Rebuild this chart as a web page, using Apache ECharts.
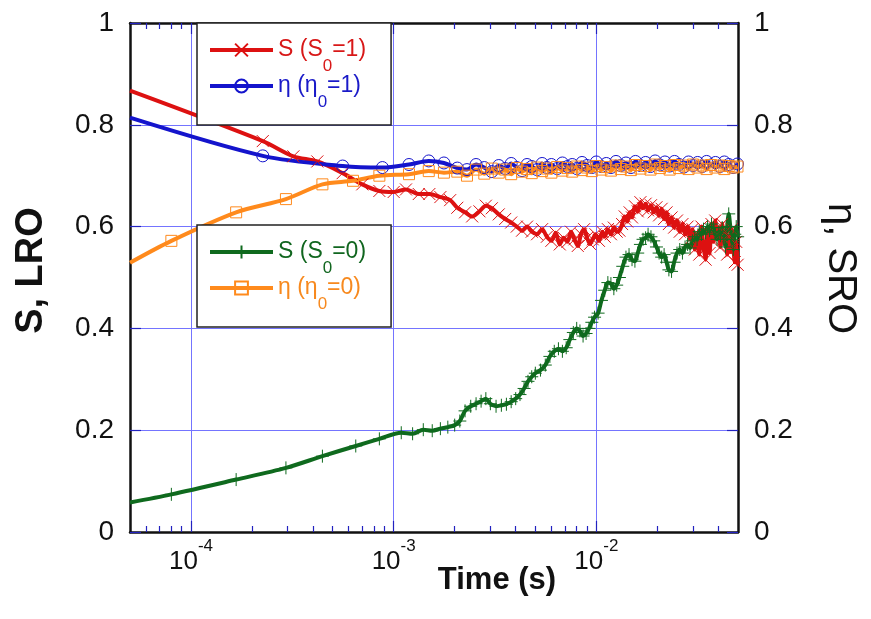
<!DOCTYPE html>
<html>
<head>
<meta charset="utf-8">
<script src="https://cdn.jsdelivr.net/npm/echarts@6/dist/echarts.min.js"></script>
<style>
  html, body { margin: 0; padding: 0; background: #fff; }
  #chart { width: 871px; height: 619px; }
</style>
</head>
<body>
<div id="chart"></div>
<script>
// time axis ticks (s)
const majorTicks = [1e-4, 1e-3, 1e-2];
const minorTicks = [6e-5, 7e-5, 8e-5, 9e-5,
  2e-4, 3e-4, 4e-4, 5e-4, 6e-4, 7e-4, 8e-4, 9e-4,
  2e-3, 3e-3, 4e-3, 5e-3, 6e-3, 7e-3, 8e-3, 9e-3,
  2e-2, 3e-2, 4e-2];

// S (S0=1)
const timeS1 = [5e-5, 2.26e-4, 3.2e-4, 4.2e-4, 5.6e-4, 7.0e-4, 8.5e-4, 1.0e-3, 1.15e-3, 1.33e-3, 1.5e-3, 1.7e-3, 1.9e-3,
  2.06e-3, 2.25e-3, 2.44e-3, 2.65e-3, 2.85e-3, 3.05e-3, 3.3e-3, 3.55e-3, 3.8e-3, 4.05e-3, 4.3e-3, 4.55e-3, 4.8e-3,
  5.1e-3, 5.4e-3, 5.7e-3, 6.0e-3, 6.3e-3, 6.6e-3, 6.9e-3, 7.2e-3, 7.5e-3, 7.8e-3, 8.1e-3, 8.4e-3, 8.7e-3, 9.0e-3,
  9.3e-3, 9.6e-3, 9.9e-3, 1.03e-2, 1.07e-2, 1.1e-2, 1.14e-2, 1.18e-2, 1.22e-2, 1.26e-2, 1.3e-2, 1.34e-2, 1.38e-2,
  1.42e-2, 1.46e-2, 1.5e-2, 1.55e-2, 1.6e-2, 1.65e-2, 1.7e-2, 1.75e-2, 1.8e-2, 1.86e-2, 1.92e-2, 1.98e-2, 2.04e-2,
  2.1e-2, 2.16e-2, 2.22e-2, 2.28e-2, 2.35e-2, 2.42e-2, 2.5e-2, 2.58e-2, 2.66e-2, 2.74e-2, 2.82e-2, 2.9e-2, 2.98e-2,
  3.06e-2, 3.14e-2, 3.22e-2, 3.3e-2, 3.38e-2, 3.46e-2, 3.54e-2, 3.62e-2, 3.7e-2, 3.78e-2, 3.86e-2, 3.94e-2, 4.02e-2,
  4.1e-2, 4.18e-2, 4.26e-2, 4.34e-2, 4.42e-2, 4.5e-2, 4.58e-2, 4.66e-2, 4.74e-2, 4.82e-2, 4.9e-2, 4.98e-2];
const valS1 = [0.867, 0.768, 0.738, 0.728, 0.705, 0.683, 0.670, 0.668, 0.673, 0.664, 0.664, 0.658, 0.652,
  0.637, 0.628, 0.620, 0.630, 0.641, 0.636, 0.624, 0.615, 0.608, 0.600, 0.592, 0.600, 0.590,
  0.585, 0.595, 0.580, 0.572, 0.588, 0.565, 0.578, 0.570, 0.590, 0.575, 0.562, 0.585, 0.595, 0.578,
  0.566, 0.575, 0.585, 0.572, 0.590, 0.580, 0.595, 0.585, 0.598, 0.590, 0.592, 0.605, 0.620,
  0.610, 0.628, 0.618, 0.640, 0.630, 0.648, 0.636, 0.645, 0.632, 0.642, 0.628, 0.638, 0.622,
  0.635, 0.615, 0.628, 0.605, 0.618, 0.598, 0.612, 0.590, 0.605, 0.585, 0.600, 0.575, 0.595,
  0.555, 0.585, 0.545, 0.600, 0.560, 0.535, 0.590, 0.548, 0.605, 0.570, 0.612, 0.585, 0.598,
  0.560, 0.605, 0.575, 0.590, 0.545, 0.580, 0.550, 0.595, 0.560, 0.530, 0.570, 0.525];

// eta (eta0=1)
const timeE1 = [5e-5, 2.26e-4, 5.6e-4, 8.8e-4, 1.19e-3, 1.49e-3, 1.77e-3, 2.06e-3,
  2.3e-3, 2.55e-3, 2.8e-3, 3.05e-3, 3.3e-3, 3.55e-3, 3.8e-3, 4.05e-3, 4.3e-3, 4.55e-3, 4.8e-3, 5.1e-3, 5.4e-3,
  5.7e-3, 6.0e-3, 6.4e-3, 6.8e-3, 7.2e-3, 7.6e-3, 8.0e-3, 8.5e-3, 9.0e-3, 9.5e-3, 1.0e-2, 1.06e-2, 1.12e-2,
  1.18e-2, 1.25e-2, 1.32e-2, 1.4e-2, 1.48e-2, 1.56e-2, 1.65e-2, 1.75e-2, 1.85e-2, 1.95e-2, 2.06e-2, 2.18e-2,
  2.3e-2, 2.43e-2, 2.56e-2, 2.7e-2, 2.85e-2, 3.0e-2, 3.16e-2, 3.33e-2, 3.5e-2, 3.68e-2, 3.87e-2, 4.07e-2,
  4.28e-2, 4.5e-2, 4.73e-2, 4.97e-2];
const valE1 = [0.814, 0.739, 0.719, 0.716, 0.722, 0.729, 0.725, 0.715,
  0.712, 0.722, 0.716, 0.708, 0.720, 0.714, 0.724, 0.716, 0.710, 0.722, 0.718, 0.712, 0.724,
  0.716, 0.722, 0.714, 0.725, 0.718, 0.722, 0.714, 0.726, 0.720, 0.716, 0.727, 0.718, 0.724,
  0.716, 0.728, 0.720, 0.725, 0.716, 0.728, 0.720, 0.726, 0.718, 0.729, 0.721, 0.727,
  0.719, 0.728, 0.722, 0.717, 0.727, 0.720, 0.726, 0.718, 0.728, 0.721, 0.726, 0.718,
  0.727, 0.722, 0.716, 0.723];

// S (S0=0)
const timeS0 = [5e-5, 8e-5, 1.67e-4, 2.94e-4, 4.45e-4, 6.5e-4, 8.5e-4, 1.09e-3, 1.24e-3, 1.4e-3, 1.55e-3, 1.7e-3,
  1.85e-3, 2.0e-3, 2.12e-3, 2.25e-3, 2.4e-3, 2.55e-3, 2.7e-3, 2.85e-3, 3.0e-3, 3.2e-3, 3.4e-3, 3.6e-3, 3.8e-3,
  4.0e-3, 4.2e-3, 4.4e-3, 4.6e-3, 4.8e-3, 5.0e-3, 5.3e-3, 5.6e-3, 5.9e-3, 6.2e-3, 6.5e-3, 6.8e-3, 7.1e-3, 7.4e-3,
  7.7e-3, 8.0e-3, 8.3e-3, 8.6e-3, 8.9e-3, 9.2e-3, 9.5e-3, 9.8e-3, 1.02e-2, 1.06e-2, 1.1e-2, 1.14e-2, 1.18e-2,
  1.22e-2, 1.26e-2, 1.3e-2, 1.35e-2, 1.4e-2, 1.45e-2, 1.5e-2, 1.55e-2, 1.6e-2, 1.65e-2, 1.7e-2, 1.75e-2, 1.8e-2,
  1.86e-2, 1.92e-2, 1.98e-2, 2.04e-2, 2.1e-2, 2.16e-2, 2.22e-2, 2.28e-2, 2.35e-2, 2.42e-2, 2.5e-2, 2.58e-2,
  2.66e-2, 2.74e-2, 2.82e-2, 2.9e-2, 2.98e-2, 3.06e-2, 3.14e-2, 3.22e-2, 3.3e-2, 3.38e-2, 3.46e-2, 3.54e-2,
  3.62e-2, 3.7e-2, 3.78e-2, 3.86e-2, 3.94e-2, 4.02e-2, 4.1e-2, 4.18e-2, 4.26e-2, 4.34e-2, 4.42e-2, 4.5e-2,
  4.58e-2, 4.66e-2, 4.74e-2, 4.82e-2, 4.9e-2, 4.98e-2];
const valS0 = [0.058, 0.074, 0.103, 0.126, 0.149, 0.169, 0.183, 0.195, 0.193, 0.201, 0.199, 0.203,
  0.206, 0.210, 0.218, 0.238, 0.247, 0.252, 0.257, 0.262, 0.252, 0.247, 0.249, 0.251, 0.256,
  0.262, 0.270, 0.282, 0.296, 0.305, 0.312, 0.318, 0.328, 0.345, 0.355, 0.360, 0.355, 0.362, 0.378,
  0.392, 0.400, 0.395, 0.385, 0.390, 0.400, 0.412, 0.422, 0.430, 0.455, 0.475, 0.490, 0.488,
  0.478, 0.485, 0.500, 0.522, 0.540, 0.545, 0.535, 0.532, 0.548, 0.565, 0.575, 0.578, 0.585,
  0.580, 0.572, 0.560, 0.548, 0.540, 0.545, 0.530, 0.515, 0.512, 0.530, 0.548, 0.555,
  0.548, 0.560, 0.565, 0.558, 0.572, 0.580, 0.575, 0.590, 0.585, 0.595, 0.588, 0.600,
  0.592, 0.605, 0.598, 0.585, 0.575, 0.590, 0.582, 0.598, 0.575, 0.560, 0.600, 0.625,
  0.600, 0.575, 0.555, 0.585, 0.600, 0.580];

// eta (eta0=0)
const timeE0 = [5e-5, 8e-5, 1.67e-4, 2.94e-4, 4.45e-4, 6.3e-4, 8.5e-4, 1.19e-3, 1.49e-3, 1.77e-3, 2.06e-3,
  2.3e-3, 2.55e-3, 2.8e-3, 3.05e-3, 3.3e-3, 3.55e-3, 3.8e-3, 4.05e-3, 4.3e-3, 4.55e-3, 4.8e-3, 5.1e-3, 5.4e-3,
  5.7e-3, 6.0e-3, 6.4e-3, 6.8e-3, 7.2e-3, 7.6e-3, 8.0e-3, 8.5e-3, 9.0e-3, 9.5e-3, 1.0e-2, 1.06e-2, 1.12e-2,
  1.18e-2, 1.25e-2, 1.32e-2, 1.4e-2, 1.48e-2, 1.56e-2, 1.65e-2, 1.75e-2, 1.85e-2, 1.95e-2, 2.06e-2, 2.18e-2,
  2.3e-2, 2.43e-2, 2.56e-2, 2.7e-2, 2.85e-2, 3.0e-2, 3.16e-2, 3.33e-2, 3.5e-2, 3.68e-2, 3.87e-2, 4.07e-2,
  4.28e-2, 4.5e-2, 4.73e-2, 4.97e-2];
const valE0 = [0.529, 0.572, 0.628, 0.654, 0.683, 0.690, 0.700, 0.703, 0.709, 0.706, 0.708,
  0.700, 0.712, 0.704, 0.714, 0.706, 0.712, 0.703, 0.715, 0.708, 0.713, 0.705, 0.716, 0.709,
  0.714, 0.706, 0.717, 0.710, 0.715, 0.708, 0.718, 0.711, 0.716, 0.709, 0.719, 0.712, 0.717,
  0.710, 0.720, 0.713, 0.718, 0.711, 0.721, 0.714, 0.719, 0.712, 0.722, 0.715, 0.719,
  0.712, 0.721, 0.715, 0.720, 0.713, 0.722, 0.716, 0.720, 0.713, 0.721, 0.716, 0.720,
  0.713, 0.719, 0.716, 0.718];

const FONT = "'Liberation Sans', Arial, sans-serif";
const BLUE_GRID = '#7474ff';
const BLUE_TICK = '#2222c0';

// first sample sits on the left frame, no marker there
function pairs(ts, vs) {
  return ts.map((t, i) => i === 0 ? { value: [t, vs[i]], symbol: 'none' } : [t, vs[i]]);
}

function lineSeries(name, ts, vs, color, symbol, size, yIndex) {
  return {
    name: name,
    type: 'line',
    yAxisIndex: yIndex,
    data: pairs(ts, vs),
    smooth: 0.3,
    symbol: symbol,
    symbolSize: size,
    lineStyle: { color: color, width: 4 },
    itemStyle: { color: 'rgba(0,0,0,0)', borderColor: color, borderWidth: 1 },
    emphasis: { disabled: true },
    animation: false
  };
}

function legendBox(names, colors, left, top) {
  return {
    data: names.map((n, i) => ({ name: n, textStyle: { color: colors[i] } })),
    orient: 'vertical',
    left: left,
    top: top,
    itemWidth: 63,
    itemHeight: 16,
    itemGap: -14,
    padding: [2, 25, 14, 11],
    backgroundColor: '#fff',
    borderColor: '#222',
    borderWidth: 1.5,
    selectedMode: false,
    lineStyle: { width: 4 },
    formatter: n => n.replace('S0', 'S{sub|0}').replace('η0', 'η{sub|0}'),
    textStyle: {
      fontFamily: FONT,
      fontSize: 23,
      lineHeight: 50,
      rich: {
        sub: { fontFamily: FONT, fontSize: 17, lineHeight: 17, verticalAlign: 'bottom' }
      }
    }
  };
}

function timeAxis(pos, ticks, len, main) {
  return {
    type: 'log',
    logBase: 10,
    min: 5e-5,
    max: 5e-2,
    position: pos,
    axisLine: { show: main, onZero: false, lineStyle: { color: '#111', width: 2.5 } },
    axisTick: { show: true, inside: true, length: len, customValues: ticks, lineStyle: { color: BLUE_TICK, width: 1.2 } },
    axisLabel: { show: false },
    splitLine: { show: false }
  };
}

const bottomAxis = timeAxis('bottom', majorTicks, 11, true);
bottomAxis.splitLine = { show: true, lineStyle: { color: BLUE_GRID, width: 1 } };
bottomAxis.axisLabel = {
  show: true,
  customValues: majorTicks,
  margin: 6,
  color: '#111',
  fontFamily: FONT,
  fontSize: 26,
  lineHeight: 48,
  formatter: v => '10{sup|' + Math.round(Math.log10(v)) + '}',
  rich: { sup: { fontFamily: FONT, fontSize: 17, lineHeight: 17, verticalAlign: 'top', color: '#111' } }
};
bottomAxis.name = 'Time (s)';
bottomAxis.nameLocation = 'middle';
bottomAxis.nameGap = 33;
bottomAxis.nameMoveOverlap = false;
bottomAxis.nameTextStyle = { fontFamily: FONT, fontSize: 31, fontWeight: 'bold', color: '#111', padding: [0, 0, 0, 126] };

function valueAxis(pos, name, rotate, gap, size, pad, bold, split) {
  return {
    type: 'value',
    position: pos,
    min: 0,
    max: 1,
    interval: 0.2,
    name: name,
    nameLocation: 'middle',
    nameRotate: rotate,
    nameGap: gap,
    nameMoveOverlap: false,
    nameTextStyle: { fontFamily: FONT, fontSize: size, fontWeight: bold ? 'bold' : 'normal', color: '#111', padding: pad },
    axisLine: { show: true, lineStyle: { color: '#111', width: 2.5 } },
    axisTick: { show: true, inside: true, length: 11, lineStyle: { color: BLUE_TICK, width: 1.2 } },
    axisLabel: { margin: 16, color: '#111', fontFamily: FONT, fontSize: 28 },
    splitLine: { show: split, lineStyle: { color: BLUE_GRID, width: 1 } }
  };
}

const option = {
  backgroundColor: '#fff',
  animation: false,
  grid: { left: 130, right: 133, top: 23, bottom: 87, outerBoundsMode: 'none', containLabel: false },
  legend: [
    legendBox(['S (S0=1)', 'η (η0=1)'], ['#d81818', '#1a1ac8'], 197, 23),
    legendBox(['S (S0=0)', 'η (η0=0)'], ['#11661f', '#f7891e'], 197, 225)
  ],
  xAxis: [
    bottomAxis,
    timeAxis('bottom', minorTicks, 6, false),
    timeAxis('top', majorTicks, 11, true),
    timeAxis('top', minorTicks, 6, false)
  ],
  yAxis: [
    valueAxis('left', 'S, LRO', 90, 79, 38, [0, 0, 0, 14], true, true),
    valueAxis('right', 'η, SRO', -90, 82, 40, [0, 18, 0, 0], false, false)
  ],
  series: [
    lineSeries('S (S0=1)', timeS1, valS1, '#dd1111', 'path://M0,0L10,10M10,0L0,10', 12, 0),
    lineSeries('η (η0=1)', timeE1, valE1, '#1414cc', 'circle', 12, 1),
    lineSeries('S (S0=0)', timeS0, valS0, '#0f6a1e', 'path://M5,0L5,10M0,5L10,5', 13, 0),
    lineSeries('η (η0=0)', timeE0, valE0, '#ff8a1c', 'rect', 11, 1)
  ]
};

const chart = echarts.init(document.getElementById('chart'), null, { renderer: 'canvas' });
chart.setOption(option);
</script>
</body>
</html>
